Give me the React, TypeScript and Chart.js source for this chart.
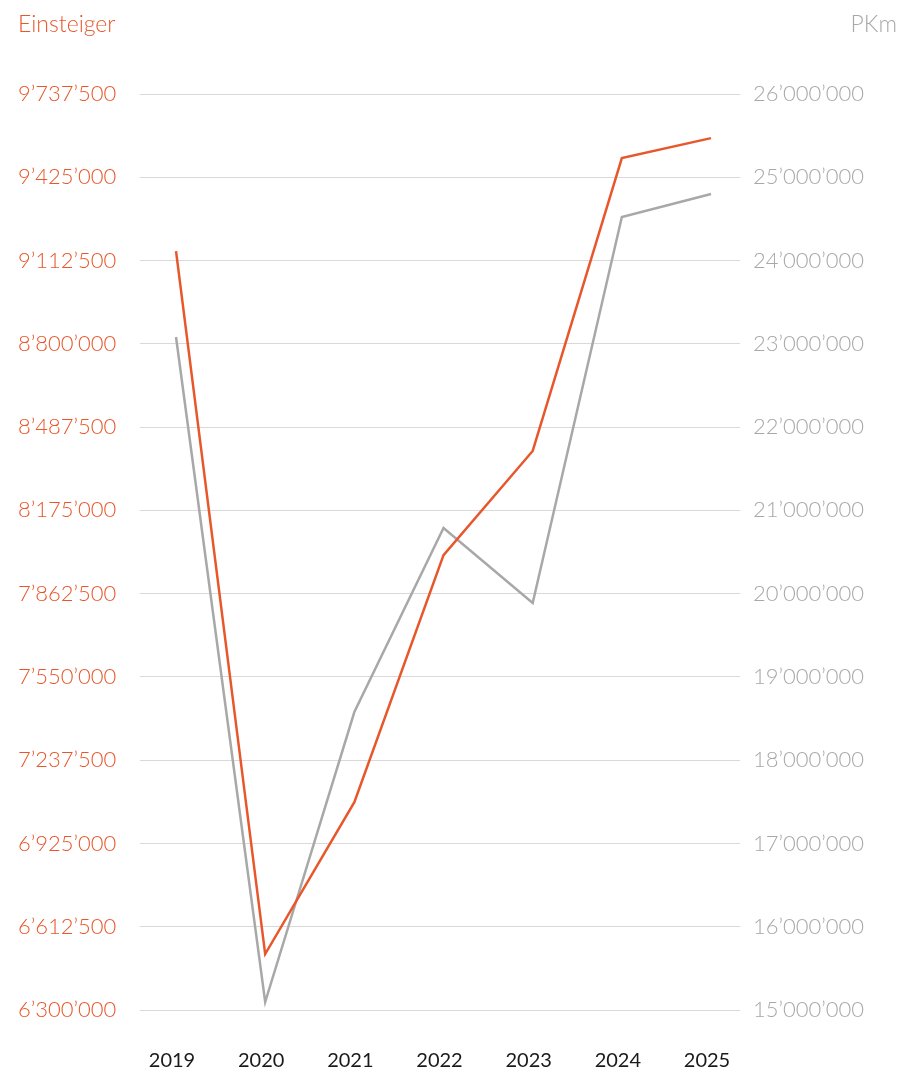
import React, { useEffect, useRef } from "react";
import { Chart, registerables } from "chart.js";

Chart.register(...registerables);

const years = [2019, 2020, 2021, 2022, 2023, 2024, 2025];
const einsteiger = [9148000, 6510000, 7080000, 8007000, 8398000, 9497000, 9572000];
const pkm = [23082000, 15096000, 18578000, 20788000, 19887000, 24523000, 24799000];

const leftTitle = "Einsteiger";
const rightTitle = "PKm";

const ORANGE = "#e8572b";
const GRAY = "#a8a8a8";
const FONT = "Lato, 'Open Sans', sans-serif";

const fmt = (v: number) =>
  Math.round(v)
    .toString()
    .replace(/\B(?=(\d{3})+(?!\d))/g, "\u2019");

export default function App() {
  const ref = useRef<HTMLCanvasElement | null>(null);

  useEffect(() => {
    if (!ref.current) return;
    const chart = new Chart(ref.current, {
      type: "line",
      data: {
        datasets: [
          {
            label: leftTitle,
            data: years.map((y, i) => ({ x: y, y: einsteiger[i] })),
            borderColor: ORANGE,
            borderWidth: 2.5,
            pointRadius: 0,
            tension: 0,
            yAxisID: "yL",
          },
          {
            label: rightTitle,
            data: years.map((y, i) => ({ x: y, y: pkm[i] })),
            borderColor: GRAY,
            borderWidth: 2.5,
            pointRadius: 0,
            tension: 0,
            yAxisID: "yR",
          },
        ],
      },
      options: {
        responsive: false,
        animation: false,
        layout: { padding: { left: 18, right: 0, top: 94, bottom: 0 } },
        plugins: { legend: { display: false }, tooltip: { enabled: false }, title: { display: false } },
        scales: {
          x: {
            type: "linear",
            min: 2018.596,
            max: 2025.325,
            grid: { display: false, drawTicks: false },
            border: { display: false },
            afterBuildTicks: (scale: any) => {
              scale.ticks = years.map((v) => ({ value: v }));
            },
            afterFit: (scale: any) => {
              scale.height = 64;
            },
            ticks: {
              color: "#1a1a1a",
              font: { family: FONT, size: 20, weight: "400" },
              padding: 39,
              labelOffset: -4,
              autoSkip: false,
              maxRotation: 0,
              callback: (v: any) => String(v),
            },
          },
          yL: {
            type: "linear",
            position: "left",
            min: 6300000,
            max: 9737500,
            border: { display: false },
            grid: { color: "#d9d9d9", lineWidth: 1, drawTicks: false },
            afterFit: (scale: any) => {
              scale.width = 122;
            },
            ticks: {
              stepSize: 312500,
              color: ORANGE,
              crossAlign: "far",
              padding: 24,
              font: { family: FONT, size: 22, weight: "300" },
              callback: (v: any) => fmt(Number(v)),
            },
          },
          yR: {
            type: "linear",
            position: "right",
            min: 15000000,
            max: 26000000,
            border: { display: false },
            grid: { display: false, drawTicks: false },
            afterFit: (scale: any) => {
              scale.width = 161;
            },
            ticks: {
              stepSize: 1000000,
              color: GRAY,
              padding: 13,
              font: { family: FONT, size: 22, weight: "300" },
              callback: (v: any) => fmt(Number(v)),
            },
          },
        },
      },
    });
    return () => chart.destroy();
  }, []);

  return (
    <div style={{ position: "absolute", left: 0, top: 0, width: 901, height: 1074, background: "#fff" }}>
      <canvas ref={ref} width={901} height={1074} style={{ position: "absolute", left: 0, top: 0 }} />
      <div
        style={{
          position: "absolute",
          left: 18,
          top: 8,
          fontFamily: FONT,
          fontWeight: 300,
          fontSize: 23,
          color: ORANGE,
          lineHeight: "30px",
        }}
      >
        {leftTitle}
      </div>
      <div
        style={{
          position: "absolute",
          right: 4,
          top: 8,
          fontFamily: FONT,
          fontWeight: 300,
          fontSize: 23,
          color: GRAY,
          lineHeight: "30px",
        }}
      >
        {rightTitle}
      </div>
    </div>
  );
}
